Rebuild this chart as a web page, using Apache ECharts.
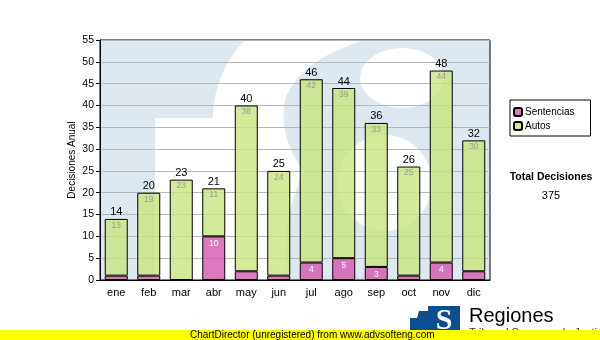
<!DOCTYPE html>
<html>
<head>
<meta charset="utf-8">
<script src="https://cdn.jsdelivr.net/npm/echarts@6/dist/echarts.min.js"></script>
<style>html,body{margin:0;padding:0;background:#fff}#c{width:600px;height:340px}</style>
</head>
<body>
<div id="c"></div>
<script>
const categories = ['ene','feb','mar','abr','may','jun','jul','ago','sep','oct','nov','dic'];
const sentencias = [1,1,0,10,2,1,4,5,3,1,4,2];
const autos = [13,19,23,11,38,24,42,39,33,25,44,30];
const seriesNames = ['Sentencias','Autos'];
const totalLabel = 'Total Decisiones';
const yMin = 0, yMax = 55, yStep = 5;

const totals = categories.map((c,i)=>sentencias[i]+autos[i]);
const grandTotal = totals.reduce((a,b)=>a+b,0);

const FONT = 'Liberation Sans';

// watermark (decoration only)
const wmPath = 'M100,40 H490 V280 H100 Z ' +
  'M155,280 L155,118 L213,118 C213,90 225,60 245,40 L365,40 C330,50 295,70 285,100 C280,130 290,150 302,170 C300,185 288,205 286,235 L284,280 Z ' +
  'M360,78 a42,30 0 1,0 84,0 a42,30 0 1,0 -84,0 Z ' +
  'M338,183 a47,48 0 1,0 94,0 a47,48 0 1,0 -94,0 Z';
const wmSvg = '<svg xmlns="http://www.w3.org/2000/svg" width="600" height="340" viewBox="0 0 600 340">' +
  '<path fill-rule="evenodd" fill="#dde8f0" d="' + wmPath + '"/></svg>';
const wmUri = 'data:image/svg+xml;charset=utf-8,' + encodeURIComponent(wmSvg);

const chart = echarts.init(document.getElementById('c'), null, {renderer:'canvas'});
chart.setOption({
  animation: false,
  backgroundColor: '#fff',
  textStyle: {fontFamily: FONT},
  grid: {left:100, right:110, top:40, bottom:60, show:true, borderColor:'#000', borderWidth:1, backgroundColor:'transparent'},
  legend: {
    data: seriesNames,
    orient: 'vertical',
    left: 510, top: 100,
    padding: [7,16,5,3],
    itemGap: 4,
    itemWidth: 8, itemHeight: 8,
    borderColor: '#000', borderWidth: 1,
    textStyle: {fontSize: 10, color:'#000', fontFamily: FONT, padding:[0,0,0,-2]},
    selectedMode: false
  },
  xAxis: {
    type: 'category',
    data: categories,
    axisLine: {lineStyle:{color:'#000'}},
    axisTick: {alignWithLabel:true, length:4, lineStyle:{color:'#000'}},
    axisLabel: {color:'#000', fontSize:11, margin:7, fontFamily: FONT},
    splitLine: {show:false}
  },
  yAxis: {
    type: 'value',
    min: yMin, max: yMax, interval: yStep,
    name: 'Decisiones Anual',
    nameLocation: 'middle',
    nameGap: 23,
    nameMoveOverlap: false,
    nameRotate: 90,
    nameTextStyle: {color:'#000', fontSize:10, fontFamily: FONT},
    axisLine: {show:true, lineStyle:{color:'#000'}},
    axisTick: {show:true, length:4, lineStyle:{color:'#000'}},
    axisLabel: {color:'#000', fontSize:10.5, margin:6, fontFamily: FONT},
    splitLine: {show:true, lineStyle:{color:'#b8b8b8', width:1}}
  },
  series: [
    {
      name: seriesNames[0], type:'bar', stack:'a', barWidth:23, data: sentencias,
      itemStyle: {color:'rgba(214,91,176,0.82)', borderColor:'#000', borderWidth:1},
      label: {show:true, position:'insideTop', distance:3, color:'#fff', fontSize:8.5, fontFamily: FONT,
        formatter: p => p.value >= 3 ? String(p.value) : ''}
    },
    {
      name: seriesNames[1], type:'bar', stack:'a', barWidth:23, data: autos,
      itemStyle: {color:'rgba(201,229,128,0.8)', borderColor:'#000', borderWidth:1},
      label: {show:true, position:'insideTop', distance:2, color:'#999', fontSize:8.5, fontFamily: FONT}
    },
    {
      name: 'total', type:'bar', barWidth:23, barGap:'-100%', data: totals,
      itemStyle: {color:'rgba(0,0,0,0)', borderWidth:0},
      label: {show:true, position:'top', distance:1, color:'#000', fontSize:11, fontFamily: FONT},
      silent: true, z: 1
    }
  ],
  graphic: [
    {type:'image', x:0, y:0, z:-10, silent:true, style:{image: wmUri, x:0, y:0, width:600, height:340}},
    {type:'text', x:551, y:177, z:60, style:{text: totalLabel, font:'bold 10.5px "Liberation Sans"', fill:'#000', align:'center', verticalAlign:'middle'}},
    {type:'text', x:551, y:196, z:60, style:{text: String(grandTotal), font:'11px "Liberation Sans"', fill:'#000', align:'center', verticalAlign:'middle'}},
    // logo
    {type:'rect', z:60, shape:{x:410, y:306, width:50, height:28}, style:{fill:'#0b4f91'}},
    {type:'polygon', z:61, shape:{points:[[410,306],[428,306],[428,311],[419,311],[417,318],[410,318]]}, style:{fill:'#fff'}},
    {type:'text', x:444, y:321, z:62, style:{text:'S', font:'bold 30px "Liberation Serif"', fill:'#fff', align:'center', verticalAlign:'middle'}},
    {type:'text', x:469, y:316, z:60, style:{text:'Regiones', font:'20px "Liberation Sans"', fill:'#000', align:'left', verticalAlign:'middle'}},
    {type:'text', x:469, y:327, z:60, style:{text:'Tribunal Supremo de Justicia', font:'11px "Liberation Sans"', fill:'#333', align:'left', verticalAlign:'top'}},
    {type:'rect', z:70, shape:{x:0, y:330, width:600, height:10}, style:{fill:'#ffff00'}},
    {type:'text', x:190, y:335, z:71, style:{text:'ChartDirector (unregistered) from www.advsofteng.com', font:'10px "Liberation Sans"', fill:'#000', align:'left', verticalAlign:'middle'}}
  ]
});
</script>
</body>
</html>
